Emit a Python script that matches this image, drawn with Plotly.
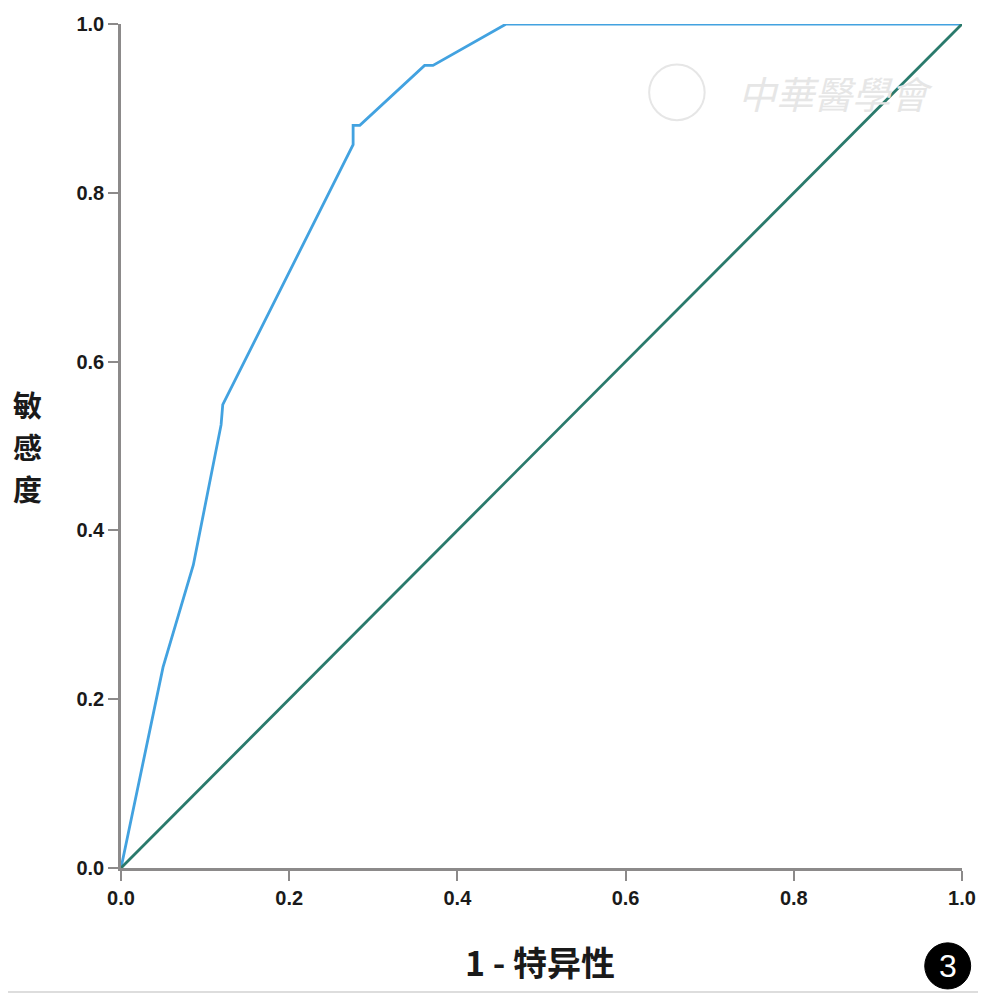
import plotly.graph_objects as go

# ROC 曲线数据 (1 - 特异性, 敏感度)
fpr = [0.0, 0.050, 0.086, 0.119, 0.121, 0.276, 0.276, 0.284, 0.361, 0.371, 0.458, 1.0]
tpr = [0.0, 0.238, 0.359, 0.525, 0.549, 0.857, 0.880, 0.880, 0.951, 0.951, 1.0, 1.0]
ref_x = [0.0, 1.0]
ref_y = [0.0, 1.0]
tick_vals = [0.0, 0.2, 0.4, 0.6, 0.8, 1.0]
tick_text = ["0.0", "0.2", "0.4", "0.6", "0.8", "1.0"]
y_title_chars = ["敏", "感", "度"]

AXIS_COLOR = "#8c8a8a"
TICK_FONT = dict(family="Liberation Sans", size=20, color="#1a1a1a", weight="bold")
CJK = "Noto Sans CJK SC"

fig = go.Figure()
fig.add_trace(go.Scatter(x=fpr, y=tpr, mode="lines",
                         line=dict(color="#42a2e0", width=2.8), showlegend=False))
fig.add_trace(go.Scatter(x=ref_x, y=ref_y, mode="lines",
                         line=dict(color="#2a7a6c", width=2.8), showlegend=False))

axis_common = dict(range=[0, 1], tickvals=tick_vals, ticktext=tick_text,
                   showgrid=False, zeroline=False, showline=True, automargin=False,
                   linecolor=AXIS_COLOR, linewidth=2.5,
                   ticks="outside", ticklen=10, tickwidth=2, tickcolor=AXIS_COLOR,
                   tickfont=TICK_FONT)
fig.update_xaxes(**axis_common)
fig.update_yaxes(**axis_common)

# y title: upright characters stacked vertically
for i, ch in enumerate(y_title_chars):
    fig.add_annotation(text=ch, xref="paper", yref="paper", x=-0.111, y=0.5498 - i * 0.0498,
                       xanchor="center", yanchor="middle", showarrow=False,
                       font=dict(family=CJK, size=29, color="#1a1a1a", weight="bold"))
fig.add_annotation(text="1 - 特异性", xref="paper", yref="paper", x=0.498, y=-0.111,
                   xanchor="center", yanchor="middle", showarrow=False,
                   font=dict(family=CJK, size=34, color="#1a1a1a", weight="bold"))

# circled figure number
fig.add_shape(type="circle", xref="paper", yref="paper", layer="below",
              x0=0.983 - 0.0273, x1=0.983 + 0.0273, y0=-0.116 - 0.0273, y1=-0.116 + 0.0273,
              fillcolor="black", line=dict(color="black", width=1))
fig.add_annotation(text="3", xref="paper", yref="paper", x=0.983, y=-0.116,
                   xanchor="center", yanchor="middle", showarrow=False,
                   font=dict(family="Liberation Sans", size=32, color="white"))

# watermark
fig.add_shape(type="circle", xref="paper", yref="paper", layer="below",
              x0=0.661 - 0.033, x1=0.661 + 0.033, y0=0.919 - 0.033, y1=0.919 + 0.033,
              line=dict(color="#e6e6e6", width=2), fillcolor="rgba(0,0,0,0)")
fig.add_annotation(text="<i>中華醫學會</i>", xref="paper", yref="paper", x=0.849, y=0.919,
                   xanchor="center", yanchor="middle", showarrow=False,
                   font=dict(family=CJK, size=38, color="#e6e6e6"))

# bottom border line
fig.add_shape(type="line", xref="paper", yref="paper", x0=-0.144, x1=1.019,
              y0=-0.147, y1=-0.147, line=dict(color="#dddddd", width=2))

# page body adds an 8px offset, so margins are trimmed to keep the plot area in place
fig.update_layout(width=984, height=991, margin=dict(l=113, r=30, t=16, b=131, autoexpand=False),
                  plot_bgcolor="white", paper_bgcolor="white")

fig.write_html("out.html")
